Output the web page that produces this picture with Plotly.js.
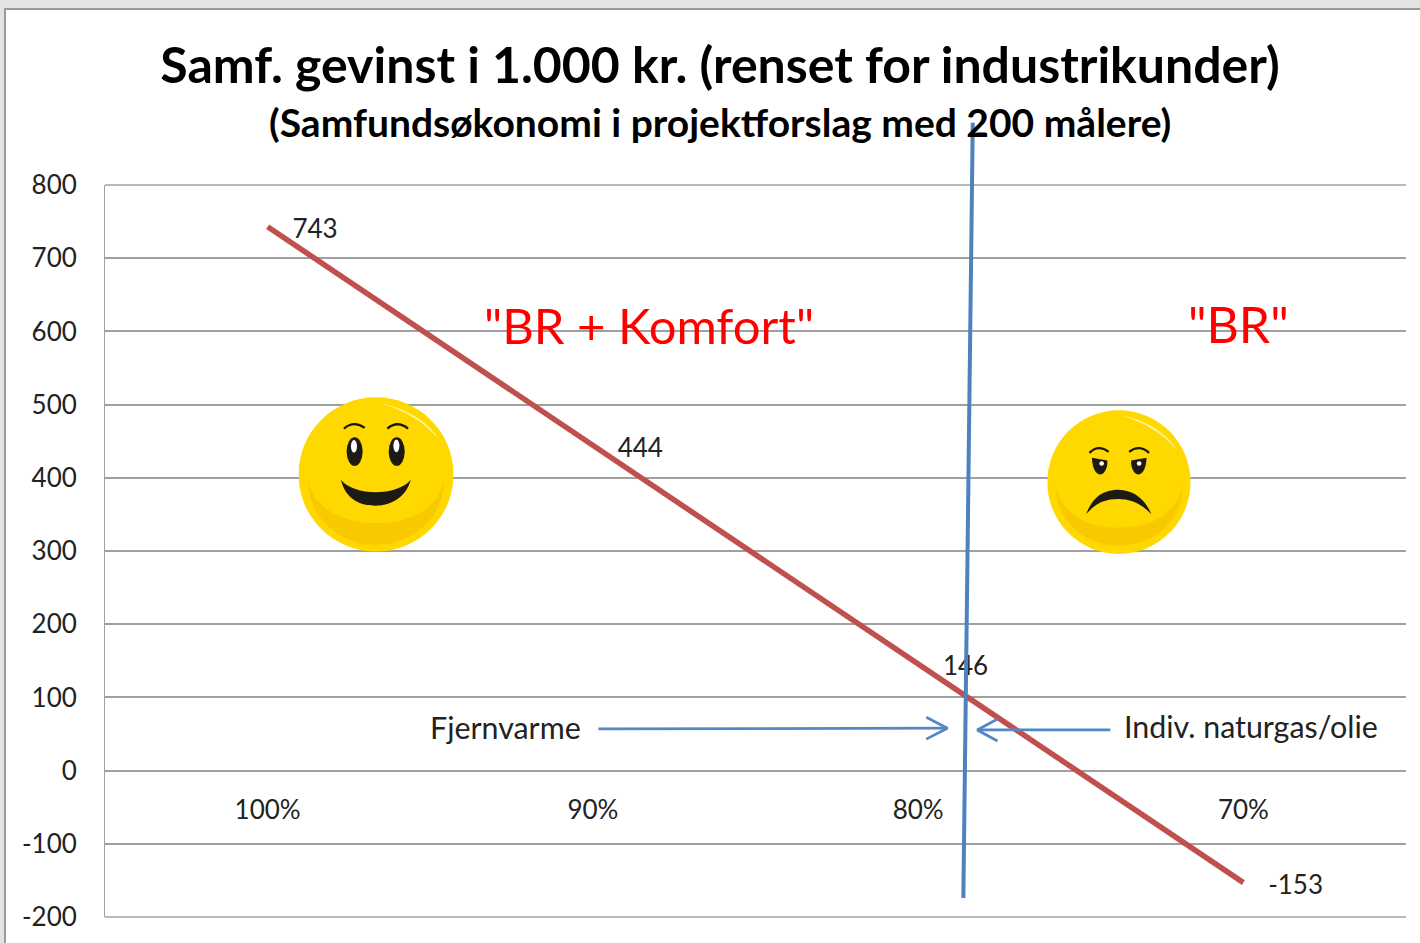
<!DOCTYPE html>
<html>
<head>
<meta charset="utf-8">
<script src="https://cdn.plot.ly/plotly-3.0.1.min.js"></script>
<style>
html,body{margin:0;padding:0;width:1420px;height:943px;overflow:hidden;background:#e2e4e3;}
#frame{position:absolute;left:4px;top:8px;width:1416px;height:935px;background:#fff;border-left:2px solid #9a9a9a;border-top:2px solid #9a9a9a;box-sizing:border-box;}
#chart{position:absolute;left:0;top:0;width:1420px;height:943px;}
</style>
</head>
<body>
<div id="frame"></div>
<div id="chart"></div>
<script>
// Chart data
const categories = ['100%', '90%', '80%', '70%'];
const gain = [743, 444, 146, -153];
const yTicks = [-200, -100, 0, 100, 200, 300, 400, 500, 600, 700, 800];

// Divider line, in category-position units (x) and value units (y)
const dividerX = [2.168, 2.139];
const dividerY = [885, -174];

// Arrow shafts and heads
const arrowLeftX  = [1.017, 2.090, null, 2.025, 2.090, 2.025];
const arrowLeftY  = [57, 58, null, 73, 58, 43];
const arrowRightX = [2.591, 2.182, null, 2.244, 2.182, 2.244];
const arrowRightY = [55.5, 55.5, null, 70.5, 55.5, 40.5];

const titleMain = 'Samf. gevinst i 1.000 kr. (renset for industrikunder)';
const titleSub = '(Samfundsøkonomi i projektforslag med 200 målere)';

const FONT = 'Lato, "Open Sans", sans-serif';
const RED = '#c0504d', BLUE = '#4f81bd', GRID = '#a0a0a0';
const Y_MIN = -200, Y_MAX = 800, X_MIN = -0.5, X_MAX = 3.5;

const happySvg = `<svg xmlns="http://www.w3.org/2000/svg" viewBox="54 51 464 466">
<circle cx="286" cy="284" r="232" fill="#ffd800"/>
<path d="M82 300C100 390 190 430 286 430C390 430 470 390 490 300C490 410 400 495 286 495C172 495 82 410 82 300Z" fill="#f9c900"/>
<path d="M290 67C370 85 440 120 472 176C430 125 370 90 290 67Z" fill="#fff3a0"/>
<path d="M190 146Q220 120 252 144M320 146Q350 120 382 146" fill="none" stroke="#1c1a14" stroke-width="7"/>
<ellipse cx="222" cy="215" rx="24" ry="43" fill="#1c1a14"/><ellipse cx="348" cy="215" rx="24" ry="43" fill="#1c1a14"/>
<ellipse cx="220" cy="199" rx="9" ry="19" fill="#fff"/><ellipse cx="347" cy="198" rx="9" ry="19" fill="#fff"/>
<path d="M181 300C220 350 350 350 390 300C375 360 320 378 285 378C240 378 195 360 181 300Z" fill="#1c1a14"/>
</svg>`;

const sadSvg = `<svg xmlns="http://www.w3.org/2000/svg" viewBox="51 44 434 434">
<circle cx="267" cy="261" r="216" fill="#ffd800"/>
<path d="M76 272C95 360 175 398 267 398C360 398 440 360 460 272C460 375 375 452 267 452C160 452 76 375 76 272Z" fill="#f9c900"/>
<path d="M275 60C345 75 410 110 442 165C400 115 345 82 275 60Z" fill="#fff3a0"/>
<path d="M178 173Q205 146 236 170M298 170Q328 146 358 173" fill="none" stroke="#1c1a14" stroke-width="7"/>
<path d="M186 188L232 196C234 220 222 238 210 238C196 238 186 216 186 188Z" fill="#1c1a14"/>
<path d="M304 196L350 188C350 216 340 238 326 238C314 238 302 220 304 196Z" fill="#1c1a14"/>
<circle cx="215" cy="205" r="7" fill="#fff"/><circle cx="328" cy="205" r="7" fill="#fff"/>
<path d="M168 358C190 300 225 285 265 284C310 285 345 310 365 358C335 325 300 312 265 312C225 312 195 325 168 358Z" fill="#1c1a14"/>
</svg>`;

const toUri = s => 'data:image/svg+xml;charset=utf-8,' + encodeURIComponent(s);
const paperX = u => (u - X_MIN) / (X_MAX - X_MIN);
const paperY = v => (v - Y_MIN) / (Y_MAX - Y_MIN);

const traces = [
  {
    type: 'scatter', mode: 'lines',
    x: categories, y: gain,
    line: {color: RED, width: 5.5},
    cliponaxis: false, hoverinfo: 'x+y', showlegend: false
  },
  {
    // Data labels: the slightly offset overlay axis seats them as in the reference
    type: 'scatter', mode: 'markers+text', xaxis: 'x', yaxis: 'y2',
    x: categories, y: gain,
    text: gain.map(String), textposition: 'middle right',
    textfont: {family: FONT, size: 26, color: '#222'},
    marker: {size: 38, opacity: 0, color: RED},
    cliponaxis: false, hoverinfo: 'skip', showlegend: false
  },
  {
    type: 'scatter', mode: 'lines', xaxis: 'x2', yaxis: 'y',
    x: arrowLeftX, y: arrowLeftY, line: {color: '#5288c6', width: 2.8},
    connectgaps: false, hoverinfo: 'skip', showlegend: false
  },
  {
    type: 'scatter', mode: 'lines', xaxis: 'x2', yaxis: 'y',
    x: arrowRightX, y: arrowRightY, line: {color: '#5288c6', width: 2.8},
    connectgaps: false, hoverinfo: 'skip', showlegend: false
  }
];

const note = (x, y, text, size, color) => ({
  xref: 'x2', yref: 'y', x, y, text, showarrow: false,
  xanchor: 'center', yanchor: 'middle',
  font: {family: FONT, size, color}
});

const edgeLine = v => ({
  type: 'line', xref: 'paper', yref: 'paper', layer: 'below',
  x0: 0, x1: 1, y0: paperY(v), y1: paperY(v),
  line: {color: GRID, width: 1.6}
});

const layout = {
  width: 1420, height: 943,
  paper_bgcolor: 'rgba(0,0,0,0)', plot_bgcolor: 'rgba(0,0,0,0)',
  margin: {l: 105, r: 14, t: 185, b: 26, pad: 0},
  showlegend: false,
  title: {
    text: '<b>' + titleMain + '</b>',
    x: 720 / 1420, xanchor: 'center', xref: 'container',
    y: 1 - 65 / 943, yanchor: 'middle', yref: 'container',
    font: {family: FONT, size: 50, color: '#000'}
  },
  xaxis: {
    type: 'category', categoryorder: 'array', categoryarray: categories,
    range: [X_MIN, X_MAX], anchor: 'free', position: 0.2,
    showgrid: false, zeroline: false, showline: false,
    ticks: 'outside', ticklen: 16, tickcolor: 'rgba(0,0,0,0)',
    tickfont: {family: FONT, size: 26, color: '#222'}
  },
  xaxis2: {
    type: 'linear', range: [X_MIN, X_MAX], overlaying: 'x', anchor: 'y',
    visible: false
  },
  yaxis: {
    range: [Y_MIN, Y_MAX], tickmode: 'array', tickvals: yTicks,
    ticktext: yTicks.map(String),
    showgrid: true, gridcolor: GRID, gridwidth: 1.6,
    zeroline: true, zerolinecolor: GRID, zerolinewidth: 1.6,
    showline: true, linecolor: GRID, linewidth: 1,
    ticks: 'outside', ticklen: 22, tickcolor: 'rgba(0,0,0,0)',
    tickfont: {family: FONT, size: 26, color: '#222'}
  },
  yaxis2: {
    range: [Y_MIN + 6.8, Y_MAX + 6.8], overlaying: 'y', anchor: 'x',
    visible: false
  },
  shapes: [
    edgeLine(Y_MAX),
    edgeLine(Y_MIN),
    {
      type: 'line', xref: 'paper', yref: 'paper', layer: 'above',
      x0: paperX(dividerX[0]), y0: paperY(dividerY[0]),
      x1: paperX(dividerX[1]), y1: paperY(dividerY[1]),
      line: {color: BLUE, width: 4}
    }
  ],
  annotations: [
    {xref: 'paper', yref: 'paper', x: (720 - 105) / 1301, y: 1 + (185 - 122) / 732,
     xanchor: 'center', yanchor: 'middle', showarrow: false,
     text: '<b>' + titleSub + '</b>', font: {family: FONT, size: 39, color: '#000'}},
    note(1.172, 609, '"BR + Komfort"', 49, '#ff0000'),
    note(2.985, 610, '"BR"', 50, '#ff0000'),
    note(0.731, 60, 'Fjernvarme', 30.4, '#222'),
    note(3.024, 61, 'Indiv. naturgas/olie', 30.4, '#222')
  ],
  images: [
    {source: toUri(happySvg), xref: 'x2', yref: 'y', x: 0.095, y: 510.4,
     sizex: 0.4765, sizey: 211.7, sizing: 'stretch', xanchor: 'left', yanchor: 'top', layer: 'above'},
    {source: toUri(sadSvg), xref: 'x2', yref: 'y', x: 2.397, y: 492.6,
     sizex: 0.4427, sizey: 197, sizing: 'stretch', xanchor: 'left', yanchor: 'top', layer: 'above'}
  ]
};

Plotly.newPlot('chart', traces, layout, {displayModeBar: false, responsive: false});
</script>
</body>
</html>
